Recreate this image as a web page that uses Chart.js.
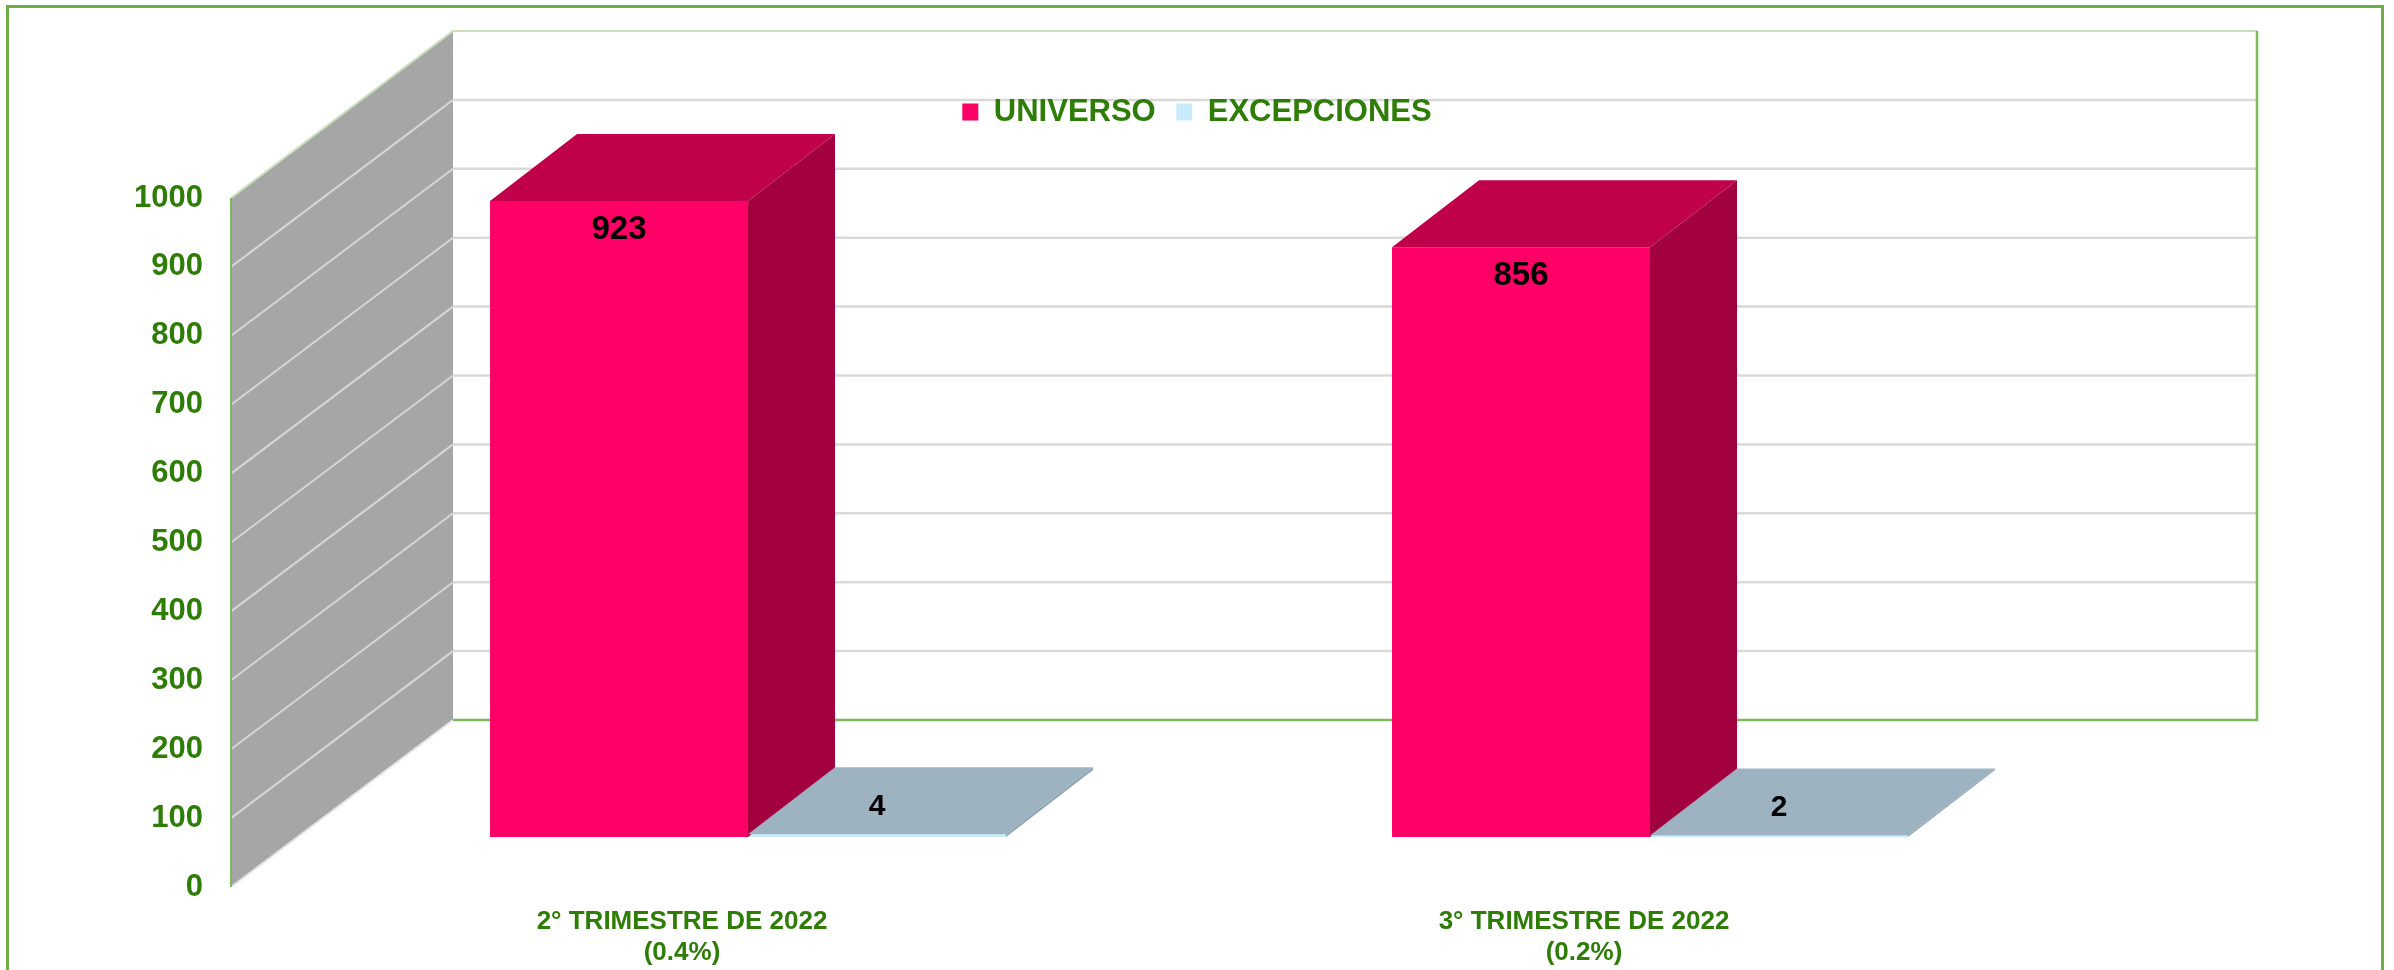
<!DOCTYPE html>
<html>
<head>
<meta charset="utf-8">
<title>Universo vs Excepciones</title>
<script src="https://cdn.jsdelivr.net/npm/chart.js@4.4.1/dist/chart.umd.min.js"></script>
<style>
  html, body { margin: 0; padding: 0; background: #fff; }
  canvas { display: block; }
</style>
</head>
<body>
<canvas id="chart" width="2394" height="970"></canvas>
<script>
// values
const categories = [['2° TRIMESTRE DE 2022', '(0.4%)'], ['3° TRIMESTRE DE 2022', '(0.2%)']];
const universo = [923, 856];
const excepciones = [4, 2];
const yTicks = [0, 100, 200, 300, 400, 500, 600, 700, 800, 900, 1000];

const FONT = '"Liberation Sans", Arial, sans-serif';
const GREEN = '#2E7D07';

// fake 3D: offsets (px) from the bar plane to the front / back planes, and bar depth
const FRONT = [66, 50];
const BACK = [156, 117];
const BAR = [87, 67];

const faceColors = [
    { top: '#C0004B', side: '#A3003F' },
    { top: '#9DB3C1', side: '#8BA2B1' }
];

function poly(ctx, pts) {
    ctx.beginPath();
    ctx.moveTo(pts[0][0], pts[0][1]);
    for (let i = 1; i < pts.length; i++) ctx.lineTo(pts[i][0], pts[i][1]);
    ctx.closePath();
    ctx.fill();
}

function line(ctx, pts, color, width) {
    ctx.strokeStyle = color;
    ctx.lineWidth = width;
    ctx.beginPath();
    ctx.moveTo(pts[0][0], pts[0][1]);
    for (let i = 1; i < pts.length; i++) ctx.lineTo(pts[i][0], pts[i][1]);
    ctx.stroke();
}

// frame, back wall, side wall and their grid lines
const walls = {
    id: 'walls',
    beforeDraw(chart) {
        const { ctx, chartArea: a } = chart;
        const y = chart.scales.y;
        const [fx, fy] = FRONT, [bx, by] = BACK;
        const top = y.getPixelForValue(1000), bot = y.getPixelForValue(0);
        const L = a.left + bx, R = a.right + bx, S = a.left - fx;
        ctx.save();
        ctx.strokeStyle = '#70AD47';
        ctx.lineWidth = 3;
        ctx.strokeRect(7.5, 6.5, 2375, 975);

        ctx.fillStyle = '#A6A6A6';
        poly(ctx, [[S, bot + fy], [L, bot - by], [L, top - by], [S, top + fy]]);

        yTicks.forEach(v => {
            if (v === 0 || v === 1000) return;
            const p = y.getPixelForValue(v);
            line(ctx, [[S, p + fy], [L, p - by]], '#D6D6D6', 2);
            line(ctx, [[L, p - by], [R, p - by]], '#D9D9D9', 2.5);
        });

        line(ctx, [[S, top + fy], [L, top - by], [R, top - by]], '#C9DFB9', 2);
        line(ctx, [[S, bot + fy], [L, bot - by]], '#E4E4E4', 2);
        line(ctx, [[L, bot - by], [R, bot - by], [R, top - by]], '#7DB85A', 2.5);
        line(ctx, [[S, top + fy], [S, bot + fy]], '#7DB85A', 2);
        ctx.restore();
    }
};

// top and side faces of the bars, then the value labels
const bars3d = {
    id: 'bars3d',
    afterDatasetsDraw(chart) {
        const ctx = chart.ctx;
        const [dx, dy] = BAR;
        ctx.save();
        chart.data.datasets.forEach((ds, i) => {
            chart.getDatasetMeta(i).data.forEach(bar => {
                const { x, y, base, width } = bar.getProps(['x', 'y', 'base', 'width'], true);
                const l = x - width / 2, r = x + width / 2;
                ctx.fillStyle = faceColors[i].side;
                poly(ctx, [[r, y], [r + dx, y - dy], [r + dx, base - dy], [r, base]]);
                ctx.fillStyle = faceColors[i].top;
                poly(ctx, [[l, y], [l + dx, y - dy], [r + dx, y - dy], [r, y]]);
            });
        });
        ctx.fillStyle = '#000';
        ctx.textAlign = 'center';
        ctx.textBaseline = 'middle';
        chart.data.datasets.forEach((ds, i) => {
            chart.getDatasetMeta(i).data.forEach((bar, j) => {
                if (i === 0) {
                    ctx.font = 'bold 33px ' + FONT;
                    ctx.fillText(ds.data[j], bar.x, bar.y + 29);
                } else {
                    ctx.font = 'bold 30px ' + FONT;
                    ctx.fillText(ds.data[j], bar.x, bar.y - 28);
                }
            });
        });
        ctx.restore();
    }
};

const ctx = document.getElementById('chart').getContext('2d');
new Chart(ctx, {
    type: 'bar',
    data: {
        labels: categories,
        datasets: [
            {
                label: 'UNIVERSO',
                data: universo,
                backgroundColor: '#FF0066',
                xAxisID: 'x',
                yAxisID: 'y'
            },
            {
                label: 'EXCEPCIONES',
                data: excepciones,
                backgroundColor: '#C9EAFB',
                xAxisID: 'x',
                yAxisID: 'y'
            }
        ]
    },
    options: {
        responsive: false,
        devicePixelRatio: 1,
        animation: false,
        categoryPercentage: 0.572,
        barPercentage: 1,
        layout: { padding: { top: 76, left: 0, right: 0, bottom: 0 } },
        plugins: {
            legend: {
                position: 'top',
                labels: {
                    boxWidth: 16,
                    boxHeight: 17,
                    padding: 20.5,
                    color: GREEN,
                    font: { family: FONT, size: 31, weight: 'bold' }
                }
            },
            tooltip: { enabled: false }
        },
        scales: {
            x: {
                grid: { display: false, drawTicks: false },
                border: { display: false },
                ticks: {
                    color: GREEN,
                    font: { family: FONT, size: 26, weight: 'bold', lineHeight: 1.2 },
                    padding: 69,
                    labelOffset: -FRONT[0],
                    maxRotation: 0,
                    autoSkip: false
                },
                afterFit: s => { s.height = 133; }
            },
            y: {
                min: 0,
                max: 1000,
                afterBuildTicks: s => { s.ticks = yTicks.map(v => ({ value: v })); },
                grid: { display: false, drawTicks: false },
                border: { display: false },
                ticks: {
                    color: GREEN,
                    font: { family: FONT, size: 31, weight: 'bold' },
                    padding: 94,
                    labelOffset: FRONT[1],
                    callback: v => String(v)
                },
                afterFit: s => { s.width = 297; }
            },
            xT: {
                type: 'linear',
                position: 'top',
                grid: { display: false, drawTicks: false },
                border: { display: false },
                ticks: { display: false },
                afterFit: s => { s.height = 10.5; }
            },
            yR: {
                type: 'linear',
                position: 'right',
                grid: { display: false, drawTicks: false },
                border: { display: false },
                ticks: { display: false },
                afterFit: s => { s.width = 293; }
            }
        }
    },
    plugins: [walls, bars3d]
});
</script>
</body>
</html>
